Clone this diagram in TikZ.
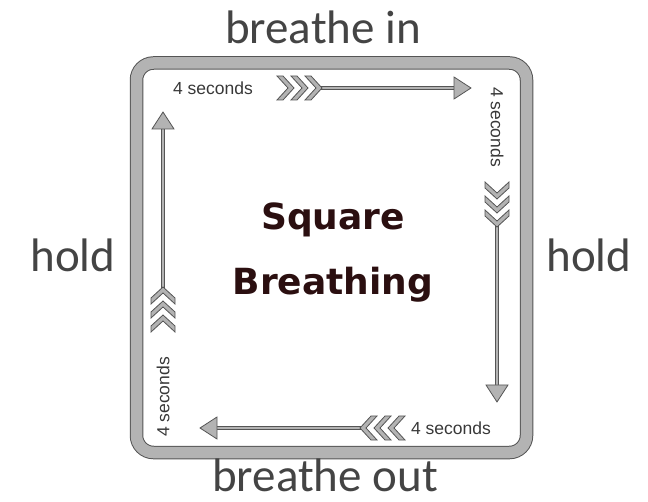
\documentclass[tikz,border=0pt]{standalone}
\usepackage{fontspec}
\newfontfamily\handfont{Carlito}
\newfontfamily\titlefont{DejaVu Sans}
\newfontfamily\labelfont{Liberation Sans}
\definecolor{bandgray}{HTML}{B3B3B3}
\definecolor{edgegray}{HTML}{555555}
\definecolor{titlecol}{HTML}{2B0F10}
\definecolor{handcol}{HTML}{444444}
\definecolor{labcol}{HTML}{383838}
\tikzset{
  shaft/.style={double=bandgray, double distance=2.6pt, line width=0.8pt, draw=edgegray},
  headst/.style={fill=bandgray, draw=edgegray, line width=0.8pt, line join=miter},
  handlab/.style={font=\handfont\fontsize{47}{47}\selectfont, text=handcol, anchor=base, inner sep=0pt},
  seclab/.style={font=\labelfont\fontsize{17.5}{17.5}\selectfont, text=labcol, inner sep=0pt},
  titlelab/.style={font=\titlefont\bfseries\fontsize{36}{36}\selectfont, text=titlecol, anchor=base, inner sep=0pt},
  pics/arrowhead/.style={code={\draw[headst] (-17,-11) -- (0,0) -- (-17,11) -- cycle;}},
  pics/fletching/.style={code={
    \foreach \o in {0,-14,-28}{
      \draw[headst] (\o-11,-12) -- (\o,0) -- (\o-11,12) -- (\o-17,12) -- (\o-6,0) -- (\o-17,-12) -- cycle;}
  }}
}
\begin{document}
\begin{tikzpicture}[x=1pt,y=-1pt]
\useasboundingbox (0,0) rectangle (648,502);
% frame
\draw[line width=13.5pt, edgegray, rounded corners=17pt] (136.5,63) rectangle (526.5,452.5);
\draw[line width=11.5pt, bandgray, rounded corners=17pt] (136.5,63) rectangle (526.5,452.5);

% coordinates of the four arrows
\coordinate (topS) at (316,88);   \coordinate (topE) at (455,88);   \coordinate (topT) at (471,88);
\coordinate (rgtS) at (497,221);  \coordinate (rgtE) at (497,386);  \coordinate (rgtT) at (497,402);
\coordinate (botS) at (366,428);  \coordinate (botE) at (216,428);  \coordinate (botT) at (200,428);
\coordinate (lftS) at (163,293);  \coordinate (lftE) at (163,128);  \coordinate (lftT) at (163,112);

% shafts
\draw[shaft] (topS) -- (topE);
\draw[shaft] (rgtS) -- (rgtE);
\draw[shaft] (botS) -- (botE);
\draw[shaft] (lftS) -- (lftE);

% heads
\pic at (topT) {arrowhead};
\pic[rotate=-90] at (rgtT) {arrowhead};
\pic[rotate=180] at (botT) {arrowhead};
\pic[rotate=90] at (lftT) {arrowhead};

% fletchings
\pic at (322,88) {fletching};
\pic[rotate=-90] at (497,227) {fletching};
\pic[rotate=180] at (360,428) {fletching};
\pic[rotate=90] at (163,287) {fletching};

% duration labels
\node[seclab] (secT) at (213,88) {4 seconds};
\node[seclab, rotate=-90] (secR) at (497,127) {4 seconds};
\node[seclab] (secB) at (451,428) {4 seconds};
\node[seclab, rotate=90] (secL) at (163,397) {4 seconds};

% side labels
\node[handlab] (in) at (323,44) {breathe in};
\node[handlab] (holdL) at (73,272) {hold};
\node[handlab] (holdR) at (589,272) {hold};
\node[handlab] (out) at (325,491) {breathe out};

% title
\node[titlelab] (sq) at (333,230) {Square};
\node[titlelab] (br) at (333,295) {Breathing};
\end{tikzpicture}
\end{document}
